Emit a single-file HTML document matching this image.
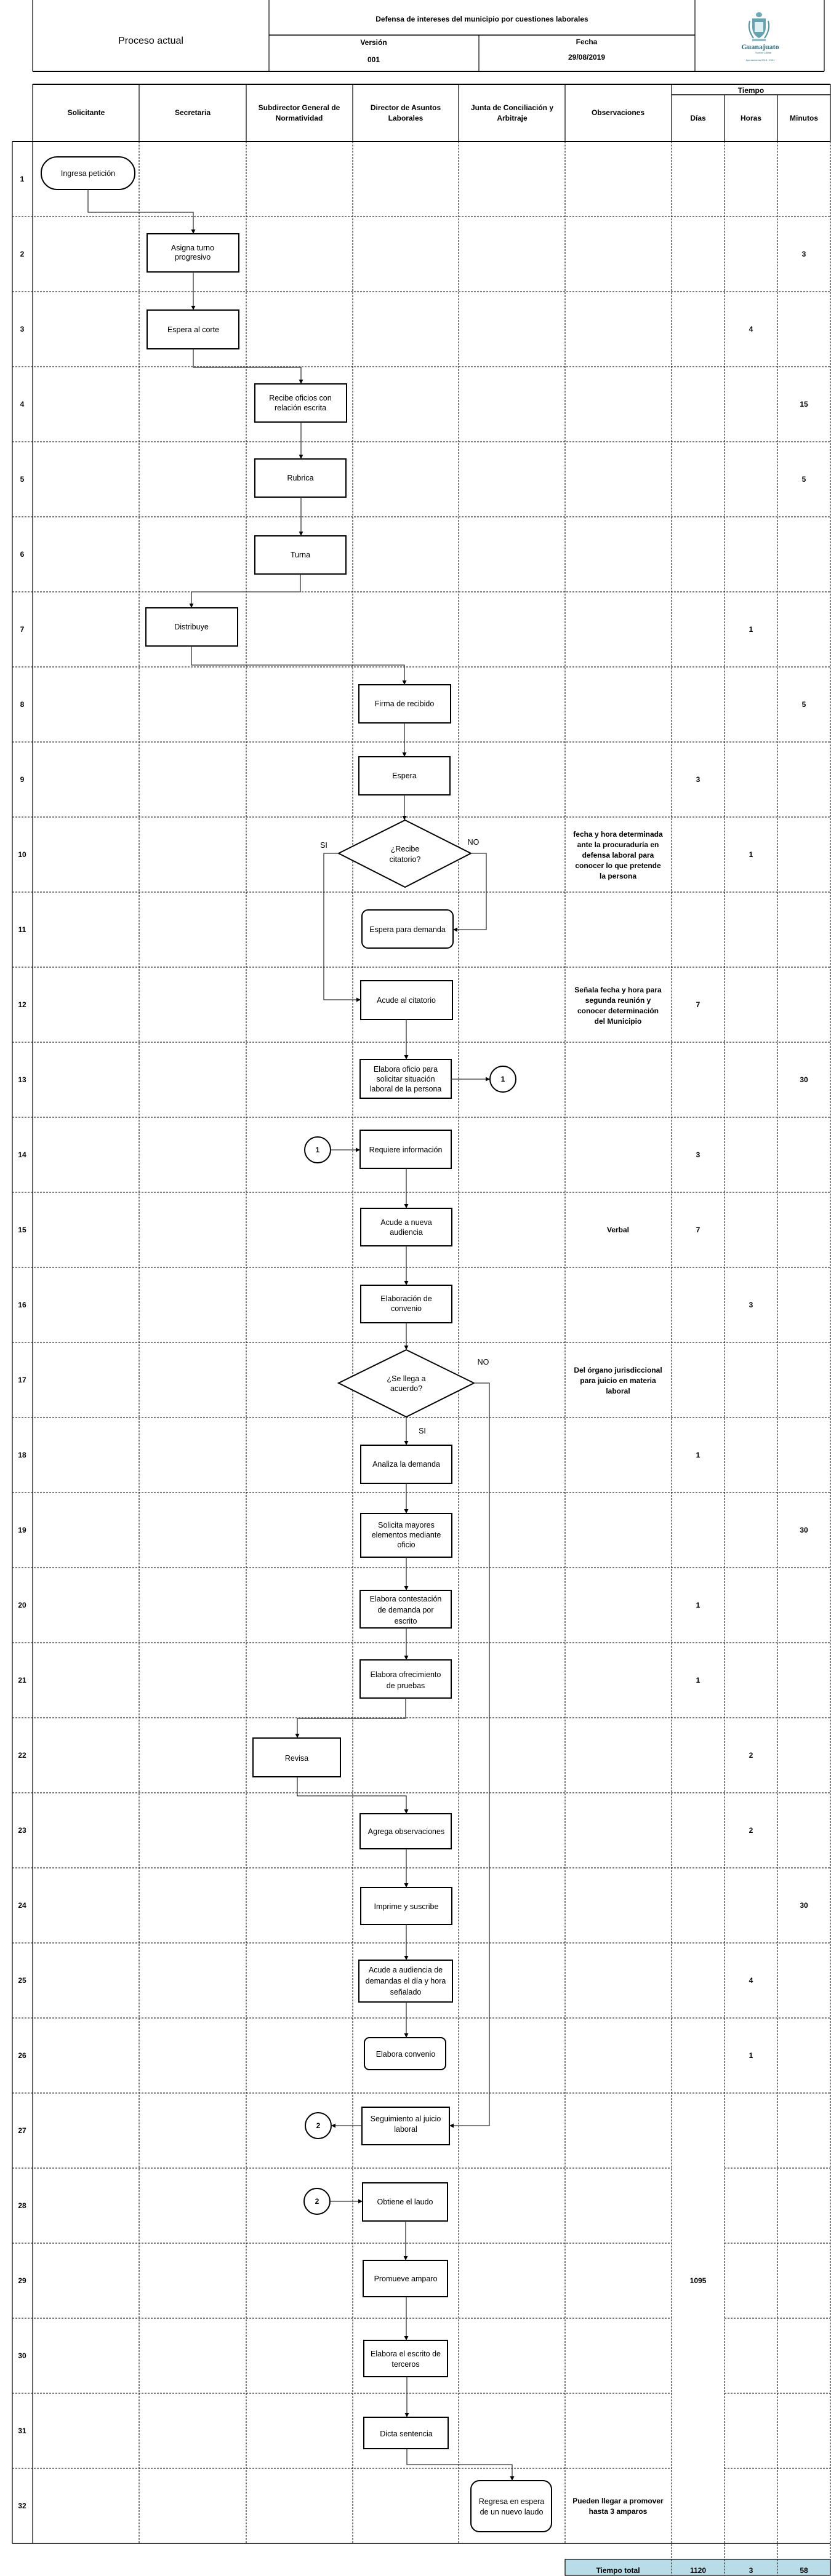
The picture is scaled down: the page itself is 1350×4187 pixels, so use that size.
<!DOCTYPE html>
<html><head><meta charset="utf-8"><style>
html,body{margin:0;padding:0;background:#fff;}
svg{display:block;}
text{font-family:"Liberation Sans",Arial,sans-serif;fill:#000;}
.b{font-weight:bold;font-size:12px;}
.bx{font-size:12.5px;}
</style></head><body>
<svg width="1350" height="4187" viewBox="0 0 1350 4187" xmlns="http://www.w3.org/2000/svg">
<defs>
<marker id="a" markerWidth="8" markerHeight="8" refX="7" refY="4" orient="auto" markerUnits="userSpaceOnUse">
<path d="M0,0.5 L7,4 L0,7.5 z" fill="#000"/></marker>
</defs>
<!-- Header -->
<g stroke="#000" stroke-width="1.2" fill="none">
<line x1="53" y1="0" x2="53" y2="116"/>
<line x1="437" y1="0" x2="437" y2="116"/>
<line x1="778" y1="57" x2="778" y2="116"/>
<line x1="1129" y1="0" x2="1129" y2="116"/>
<line x1="1339" y1="0" x2="1339" y2="116"/>
<line x1="437" y1="57" x2="1129" y2="57" stroke-width="1.6"/>
<line x1="53" y1="116" x2="1339" y2="116" stroke-width="2"/>
</g>
<text x="245" y="71" font-size="16" text-anchor="middle">Proceso actual</text>
<text x="783" y="35" class="b" text-anchor="middle">Defensa de intereses del municipio por cuestiones laborales</text>
<text x="607" y="73" class="b" text-anchor="middle">Versión</text>
<text x="607" y="101" class="b" text-anchor="middle">001</text>
<text x="953" y="72" class="b" text-anchor="middle">Fecha</text>
<text x="953" y="97" class="b" text-anchor="middle">29/08/2019</text>
<!-- logo -->
<g fill="#4a93a3">
<ellipse cx="1233" cy="24" rx="5" ry="4" opacity="0.8"/>
<path d="M1222,30 h22 v14 q0,12 -11,18 q-11,-6 -11,-18 z" opacity="0.85"/>
<path d="M1218,34 q-4,14 6,28 M1248,34 q4,14 -6,28" stroke="#4a93a3" stroke-width="2" fill="none"/>
<rect x="1226" y="36" width="14" height="16" fill="#dff0f3"/>
<rect x="1222" y="63" width="22" height="4" opacity="0.6"/>
</g>
<text x="1235" y="80" font-size="12" font-weight="bold" text-anchor="middle" style="fill:#2f6f80;font-family:'Liberation Serif',serif">Guanajuato</text>
<text x="1240" y="87" font-size="4" text-anchor="middle" style="fill:#2f6f80">Somos Capital</text>
<text x="1235" y="99" font-size="4" text-anchor="middle" style="fill:#2f6f80">Ayuntamiento 2018 - 2021</text>

<!-- Table header -->
<g stroke="#000" stroke-width="1.2" fill="none">
<line x1="53" y1="137" x2="1349" y2="137" stroke-width="2"/>
<line x1="53" y1="137" x2="53" y2="230"/>
<line x1="226" y1="137" x2="226" y2="230"/>
<line x1="400" y1="137" x2="400" y2="230"/>
<line x1="573" y1="137" x2="573" y2="230"/>
<line x1="745" y1="137" x2="745" y2="230"/>
<line x1="918" y1="137" x2="918" y2="230"/>
<line x1="1091" y1="137" x2="1091" y2="230"/>
<line x1="1177" y1="154" x2="1177" y2="230"/>
<line x1="1263" y1="154" x2="1263" y2="230"/>
<line x1="1349" y1="137" x2="1349" y2="230"/>
<line x1="1091" y1="154" x2="1349" y2="154" stroke-width="1.6"/>
<line x1="20" y1="230" x2="1349" y2="230" stroke-width="2"/>
</g>
<g class="b" text-anchor="middle">
<text x="140" y="187">Solicitante</text>
<text x="313" y="187">Secretaria</text>
<text x="486" y="179">Subdirector General de</text>
<text x="486" y="196">Normatividad</text>
<text x="659" y="179">Director de Asuntos</text>
<text x="659" y="196">Laborales</text>
<text x="832" y="179">Junta de Conciliación y</text>
<text x="832" y="196">Arbitraje</text>
<text x="1004" y="187">Observaciones</text>
<text x="1220" y="151">Tiempo</text>
<text x="1134" y="196">Días</text>
<text x="1220" y="196">Horas</text>
<text x="1306" y="196">Minutos</text>
</g>

<!-- Body grid -->
<g stroke="#000" stroke-width="1.2">
<line x1="20" y1="230" x2="20" y2="4134"/>
<line x1="53" y1="230" x2="53" y2="4134"/>
<line x1="20" y1="4134" x2="1349" y2="4134" stroke-width="1.6"/>
</g>
<g stroke="#000" stroke-width="1" stroke-dasharray="3,2">
<line x1="226" y1="230" x2="226" y2="4134"/>
<line x1="400" y1="230" x2="400" y2="4134"/>
<line x1="573" y1="230" x2="573" y2="4134"/>
<line x1="745" y1="230" x2="745" y2="4134"/>
<line x1="918" y1="230" x2="918" y2="4134"/>
<line x1="1091" y1="230" x2="1091" y2="4160"/>
<line x1="1177" y1="230" x2="1177" y2="4160"/>
<line x1="1263" y1="230" x2="1263" y2="4160"/>
<line x1="1349" y1="230" x2="1349" y2="4160"/>
<line x1="20" y1="352" x2="1349" y2="352"/>
<line x1="20" y1="474" x2="1349" y2="474"/>
<line x1="20" y1="596" x2="1349" y2="596"/>
<line x1="20" y1="718" x2="1349" y2="718"/>
<line x1="20" y1="840" x2="1349" y2="840"/>
<line x1="20" y1="962" x2="1349" y2="962"/>
<line x1="20" y1="1084" x2="1349" y2="1084"/>
<line x1="20" y1="1206" x2="1349" y2="1206"/>
<line x1="20" y1="1328" x2="1349" y2="1328"/>
<line x1="20" y1="1450" x2="1349" y2="1450"/>
<line x1="20" y1="1572" x2="1349" y2="1572"/>
<line x1="20" y1="1694" x2="1349" y2="1694"/>
<line x1="20" y1="1816" x2="1349" y2="1816"/>
<line x1="20" y1="1938" x2="1349" y2="1938"/>
<line x1="20" y1="2060" x2="1349" y2="2060"/>
<line x1="20" y1="2182" x2="1349" y2="2182"/>
<line x1="20" y1="2304" x2="1349" y2="2304"/>
<line x1="20" y1="2426" x2="1349" y2="2426"/>
<line x1="20" y1="2548" x2="1349" y2="2548"/>
<line x1="20" y1="2670" x2="1349" y2="2670"/>
<line x1="20" y1="2792" x2="1349" y2="2792"/>
<line x1="20" y1="2914" x2="1349" y2="2914"/>
<line x1="20" y1="3036" x2="1349" y2="3036"/>
<line x1="20" y1="3158" x2="1349" y2="3158"/>
<line x1="20" y1="3280" x2="1349" y2="3280"/>
<line x1="20" y1="3402" x2="1349" y2="3402"/>
<line x1="20" y1="3524" x2="1091" y2="3524"/><line x1="1177" y1="3524" x2="1349" y2="3524"/>
<line x1="20" y1="3646" x2="1091" y2="3646"/><line x1="1177" y1="3646" x2="1349" y2="3646"/>
<line x1="20" y1="3768" x2="1091" y2="3768"/><line x1="1177" y1="3768" x2="1349" y2="3768"/>
<line x1="20" y1="3890" x2="1091" y2="3890"/><line x1="1177" y1="3890" x2="1349" y2="3890"/>
<line x1="20" y1="4012" x2="1091" y2="4012"/><line x1="1177" y1="4012" x2="1349" y2="4012"/>
</g>

<!-- Row numbers -->
<g class="b" text-anchor="middle">
<text x="36" y="295">1</text><text x="36" y="417">2</text><text x="36" y="539">3</text><text x="36" y="661">4</text>
<text x="36" y="783">5</text><text x="36" y="905">6</text><text x="36" y="1027">7</text><text x="36" y="1149">8</text>
<text x="36" y="1271">9</text><text x="36" y="1393">10</text><text x="36" y="1515">11</text><text x="36" y="1637">12</text>
<text x="36" y="1759">13</text><text x="36" y="1881">14</text><text x="36" y="2003">15</text><text x="36" y="2125">16</text>
<text x="36" y="2247">17</text><text x="36" y="2369">18</text><text x="36" y="2491">19</text><text x="36" y="2613">20</text>
<text x="36" y="2735">21</text><text x="36" y="2857">22</text><text x="36" y="2979">23</text><text x="36" y="3101">24</text>
<text x="36" y="3223">25</text><text x="36" y="3345">26</text><text x="36" y="3467">27</text><text x="36" y="3589">28</text>
<text x="36" y="3711">29</text><text x="36" y="3833">30</text><text x="36" y="3955">31</text><text x="36" y="4077">32</text>
</g>

<!-- Observations -->
<g class="b" text-anchor="middle">
<text x="1004" y="1360">fecha y hora determinada</text>
<text x="1004" y="1377">ante la procuraduría en</text>
<text x="1004" y="1394">defensa laboral para</text>
<text x="1004" y="1411">conocer lo que pretende</text>
<text x="1004" y="1428">la persona</text>
<text x="1004" y="1613">Señala fecha y hora para</text>
<text x="1004" y="1630">segunda reunión y</text>
<text x="1004" y="1647">conocer determinación</text>
<text x="1004" y="1664">del Municipio</text>
<text x="1004" y="2003">Verbal</text>
<text x="1004" y="2231">Del órgano jurisdiccional</text>
<text x="1004" y="2248">para juicio en materia</text>
<text x="1004" y="2265">laboral</text>
<text x="1004" y="4069">Pueden llegar a promover</text>
<text x="1004" y="4086">hasta 3 amparos</text>
</g>

<!-- Times -->
<g class="b" text-anchor="middle">
<text x="1306" y="417">3</text>
<text x="1220" y="539">4</text>
<text x="1306" y="661">15</text>
<text x="1306" y="783">5</text>
<text x="1220" y="1027">1</text>
<text x="1306" y="1149">5</text>
<text x="1134" y="1271">3</text>
<text x="1220" y="1393">1</text>
<text x="1134" y="1637">7</text>
<text x="1306" y="1759">30</text>
<text x="1134" y="1881">3</text>
<text x="1134" y="2003">7</text>
<text x="1220" y="2125">3</text>
<text x="1134" y="2369">1</text>
<text x="1306" y="2491">30</text>
<text x="1134" y="2613">1</text>
<text x="1134" y="2735">1</text>
<text x="1220" y="2857">2</text>
<text x="1220" y="2979">2</text>
<text x="1306" y="3101">30</text>
<text x="1220" y="3223">4</text>
<text x="1220" y="3345">1</text>
<text x="1134" y="3711">1095</text>
</g>

<!-- Total -->
<rect x="918" y="4160" width="431" height="26" fill="#b8dde8" stroke="#000" stroke-width="1.2"/>
<g stroke="#000" stroke-width="1" stroke-dasharray="3,2">
<line x1="1091" y1="4160" x2="1091" y2="4186"/>
<line x1="1177" y1="4160" x2="1177" y2="4186"/>
<line x1="1263" y1="4160" x2="1263" y2="4186"/>
</g>
<g class="b" text-anchor="middle">
<text x="1004" y="4182">Tiempo total</text>
<text x="1134" y="4182">1120</text>
<text x="1220" y="4182">3</text>
<text x="1306" y="4182">58</text>
</g>

<!-- Shapes -->
<g fill="#fff" stroke="#000" stroke-width="2">
<rect x="67" y="255" width="152" height="53" rx="26"/>
<rect x="239" y="380" width="149" height="62"/>
<rect x="239" y="504" width="149" height="63"/>
<rect x="414" y="624" width="149" height="62"/>
<rect x="414" y="746" width="148" height="62"/>
<rect x="414" y="871" width="148" height="62"/>
<rect x="237" y="988" width="149" height="62"/>
<rect x="583" y="1113" width="149" height="62"/>
<rect x="583" y="1230" width="148" height="62"/>
<polygon points="658,1333 765,1387 658,1442 550,1387"/>
<rect x="588" y="1479" width="148" height="62" rx="10"/>
<rect x="586" y="1594" width="149" height="63"/>
<rect x="585" y="1722" width="148" height="63"/>
<circle cx="817" cy="1754" r="21"/>
<circle cx="516" cy="1869" r="21"/>
<rect x="585" y="1837" width="148" height="62"/>
<rect x="586" y="1964" width="148" height="61"/>
<rect x="586" y="2089" width="148" height="61"/>
<polygon points="660,2194 770,2248 660,2303 550,2248"/>
<rect x="586" y="2349" width="148" height="62"/>
<rect x="586" y="2460" width="148" height="71"/>
<rect x="585" y="2585" width="148" height="61"/>
<rect x="585" y="2698" width="148" height="62"/>
<rect x="411" y="2825" width="142" height="63"/>
<rect x="585" y="2948" width="148" height="57"/>
<rect x="586" y="3068" width="148" height="60"/>
<rect x="583" y="3186" width="152" height="68"/>
<rect x="592" y="3312" width="132" height="52" rx="8"/>
<rect x="588" y="3425" width="142" height="61"/>
<circle cx="517" cy="3455" r="21"/>
<rect x="589" y="3548" width="138" height="62"/>
<circle cx="515" cy="3578" r="21"/>
<rect x="590" y="3674" width="137" height="59"/>
<rect x="591" y="3804" width="136" height="59"/>
<rect x="591" y="3929" width="137" height="51"/>
<rect x="765" y="4032" width="131" height="83" rx="14"/>
</g>

<!-- Connectors -->
<g fill="none" stroke="#333" stroke-width="1.3" marker-end="url(#a)">
<polyline points="143,308 143,345 314,345 314,380"/>
<polyline points="314,442 314,504"/>
<polyline points="314,567 314,597 489,597 489,624"/>
<polyline points="489,686 489,746"/>
<polyline points="489,808 489,871"/>
<polyline points="488,933 488,962 311,962 311,988"/>
<polyline points="311,1050 311,1081 657,1081 657,1113"/>
<polyline points="657,1175 657,1230"/>
<polyline points="657,1292 657,1333"/>
<polyline points="550,1387 526,1387 526,1625 586,1625"/>
<polyline points="765,1387 790,1387 790,1511 736,1511"/>
<polyline points="660,1657 660,1722"/>
<polyline points="733,1754 796,1754"/>
<polyline points="537,1869 585,1869"/>
<polyline points="660,1899 660,1964"/>
<polyline points="660,2025 660,2089"/>
<polyline points="660,2150 660,2194"/>
<polyline points="660,2303 660,2349"/>
<polyline points="770,2248 795,2248 795,3455 730,3455"/>
<polyline points="660,2411 660,2460"/>
<polyline points="660,2531 660,2585"/>
<polyline points="660,2646 660,2698"/>
<polyline points="659,2760 659,2793 483,2793 483,2825"/>
<polyline points="483,2888 483,2919 660,2919 660,2948"/>
<polyline points="660,3005 660,3068"/>
<polyline points="660,3128 660,3186"/>
<polyline points="660,3254 660,3312"/>
<polyline points="588,3455 538,3455"/>
<polyline points="536,3578 589,3578"/>
<polyline points="659,3610 659,3674"/>
<polyline points="660,3733 660,3804"/>
<polyline points="661,3863 661,3929"/>
<polyline points="661,3980 661,4006 832,4006 832,4032"/>
</g>

<!-- Shape text -->
<g class="bx" text-anchor="middle">
<text x="143" y="286">Ingresa petición</text>
<text x="313" y="407">Asigna turno</text><text x="313" y="422">progresivo</text>
<text x="314" y="540">Espera al corte</text>
<text x="488" y="651">Recibe oficios con</text><text x="488" y="667">relación escrita</text>
<text x="488" y="781">Rubrica</text>
<text x="488" y="906">Turna</text>
<text x="311" y="1023">Distribuye</text>
<text x="657" y="1148">Firma de recibido</text>
<text x="657" y="1265">Espera</text>
<text x="658" y="1384">¿Recibe</text><text x="658" y="1401">citatorio?</text>
<text x="526" y="1378">SI</text>
<text x="769" y="1373">NO</text>
<text x="662" y="1515">Espera para demanda</text>
<text x="660" y="1630">Acude al citatorio</text>
<text x="659" y="1742">Elabora oficio para</text><text x="659" y="1758">solicitar situación</text><text x="659" y="1774">laboral de la persona</text>
<text x="817" y="1758" class="b">1</text>
<text x="516" y="1873" class="b">1</text>
<text x="659" y="1873">Requiere información</text>
<text x="660" y="1991">Acude a nueva</text><text x="660" y="2007">audiencia</text>
<text x="660" y="2115">Elaboración de</text><text x="660" y="2131">convenio</text>
<text x="660" y="2245">¿Se llega a</text><text x="660" y="2261">acuerdo?</text>
<text x="785" y="2218">NO</text>
<text x="686" y="2330">SI</text>
<text x="660" y="2384">Analiza la demanda</text>
<text x="660" y="2483">Solicita mayores</text><text x="660" y="2499">elementos mediante</text><text x="660" y="2515">oficio</text>
<text x="659" y="2603">Elabora contestación</text><text x="659" y="2621">de demanda por</text><text x="659" y="2639">escrito</text>
<text x="659" y="2726">Elabora ofrecimiento</text><text x="659" y="2744">de pruebas</text>
<text x="482" y="2862">Revisa</text>
<text x="660" y="2981">Agrega observaciones</text>
<text x="660" y="3103">Imprime y suscribe</text>
<text x="659" y="3206">Acude a audiencia de</text><text x="659" y="3224">demandas el día y hora</text><text x="659" y="3242">señalado</text>
<text x="659" y="3343">Elabora convenio</text>
<text x="659" y="3448">Seguimiento al juicio</text><text x="659" y="3465">laboral</text>
<text x="517" y="3459" class="b">2</text>
<text x="515" y="3582" class="b">2</text>
<text x="658" y="3583">Obtiene el laudo</text>
<text x="659" y="3708">Promueve amparo</text>
<text x="659" y="3830">Elabora el escrito de</text><text x="659" y="3847">terceros</text>
<text x="660" y="3960">Dicta sentencia</text>
<text x="831" y="4070">Regresa en espera</text><text x="831" y="4087">de un nuevo laudo</text>
</g>
</svg>
</body></html>
